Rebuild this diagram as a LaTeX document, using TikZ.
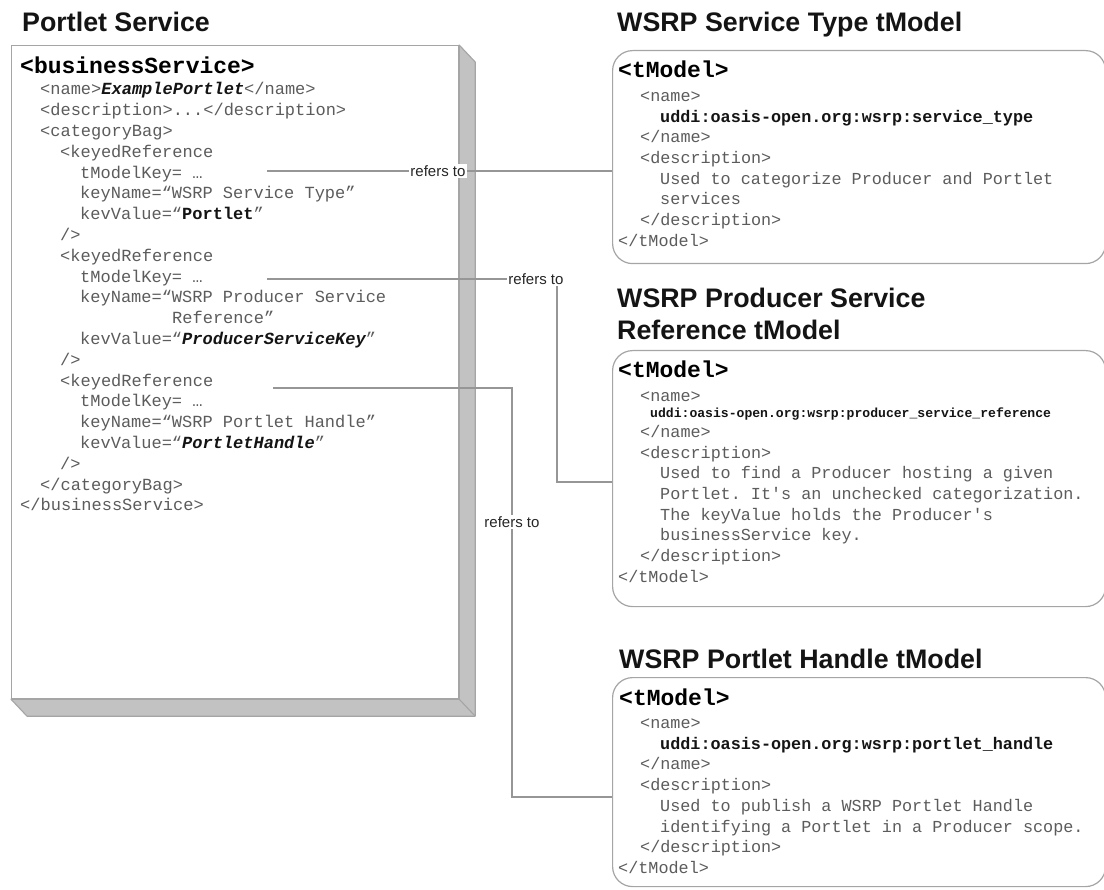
\documentclass[tikz,border=0pt]{standalone}
\usepackage{fontspec}
\setmainfont{Liberation Sans}
\setmonofont{Liberation Mono}
\definecolor{codegray}{RGB}{92,92,92}
\definecolor{linegray}{RGB}{150,150,150}
\definecolor{boxgray}{RGB}{165,165,165}
\definecolor{shadowgray}{RGB}{194,194,194}
\definecolor{darktext}{RGB}{20,20,20}
\newcommand\bk[1]{{\color{darktext}\bfseries #1}}
\newcommand\bki[1]{{\color{darktext}\bfseries\itshape #1}}
\begin{document}
\begin{tikzpicture}[x=1pt,y=-1pt,
  title/.style={anchor=base west, inner sep=0, font=\fontsize{26.8}{30}\selectfont\bfseries, text=darktext},
  code/.style={anchor=base west, inner sep=0, font=\ttfamily\fontsize{17}{20}\selectfont, text=codegray},
  rcode/.style={anchor=base west, inner sep=0, font=\ttfamily\fontsize{16.8}{20}\selectfont, text=codegray},
  rbold/.style={rcode, font=\ttfamily\bfseries\fontsize{16.8}{20}\selectfont, text=darktext},
  rsmall/.style={rcode, font=\ttfamily\bfseries\fontsize{13.1}{15}\selectfont, text=darktext},
  tag/.style={anchor=base west, inner sep=0, font=\ttfamily\bfseries\fontsize{23}{26}\selectfont, text=black},
  conn/.style={draw=linegray, line width=1.1pt},
  reflabel/.style={fill=white, inner sep=1.5pt, font=\fontsize{15}{17}\selectfont, text=black!85},
  tbox/.style={draw=boxgray, line width=1.2pt, rounded corners=20pt, fill=white, inner sep=0, anchor=north west, minimum width=493pt}]
\useasboundingbox (0,0) rectangle (1104,890);

% ---------- Portlet Service box ----------
\node[title] (t0) at (22,32) {Portlet Service};
\node[draw=boxgray, line width=1.2pt, fill=white, inner sep=0, anchor=north west,
      minimum width=447pt, minimum height=653pt] (ps) at (11,45) {};
\filldraw[fill=shadowgray, draw=boxgray, line width=1.1pt, line join=round]
  (ps.north east) -- ([shift={(16,17)}]ps.north east)
  -- ([shift={(16,17)}]ps.south east) -- ([shift={(16,17)}]ps.south west)
  -- (ps.south west) -- (ps.south east) -- cycle;
\draw[draw=boxgray, line width=1.1pt] (ps.south east) -- ([shift={(16,17)}]ps.south east);

\node[tag] (bs) at (20,74) {<businessService>};
\node[code] (l0) at (40,95) {<name>\bki{ExamplePortlet}</name>};
\node[code] (l1) at (40,115.8) {<description>...</description>};
\node[code] (l2) at (40,136.6) {<categoryBag>};
\node[code] (l3) at (60,157.4) {<keyedReference};
\node[code] (l4) at (80,178.2) {tModelKey= …};
\node[code] (l5) at (80,199) {keyName=“WSRP Service Type”};
\node[code] (l6) at (80,219.8) {kevValue=“\bk{Portlet}”};
\node[code] (l7) at (60,240.6) {/>};
\node[code] (l8) at (60,261.4) {<keyedReference};
\node[code] (l9) at (80,282.2) {tModelKey= …};
\node[code] (l10) at (80,303) {keyName=“WSRP Producer Service};
\node[code] (l11) at (172,323.8) {Reference”};
\node[code] (l12) at (80,344.6) {kevValue=“\bki{ProducerServiceKey}”};
\node[code] (l13) at (60,365.4) {/>};
\node[code] (l14) at (60,386.2) {<keyedReference};
\node[code] (l15) at (80,407) {tModelKey= …};
\node[code] (l16) at (80,427.8) {keyName=“WSRP Portlet Handle”};
\node[code] (l17) at (80,448.6) {kevValue=“\bki{PortletHandle}”};
\node[code] (l18) at (60,469.4) {/>};
\node[code] (l19) at (40,490.2) {</categoryBag>};
\node[code] (l20) at (20,511) {</businessService>};

% ---------- WSRP Service Type tModel ----------
\node[title] (t1) at (617,32) {WSRP Service Type tModel};
\node[tbox, minimum height=213pt] (tm1) at (612,50) {};
\node[tag] (tg1) at (618,78) {<tModel>};
\node[rcode] (a0) at (640,101.5) {<name>};
\node[rbold] (a1) at (660,122.2) {uddi:oasis-open.org:wsrp:service\_type};
\node[rcode] (a2) at (640,142.9) {</name>};
\node[rcode] (a3) at (640,163.6) {<description>};
\node[rcode] (a4) at (660,184.3) {Used to categorize Producer and Portlet};
\node[rcode] (a5) at (660,205) {services};
\node[rcode] (a6) at (640,225.7) {</description>};
\node[rcode] (a7) at (618,246.4) {</tModel>};

% ---------- WSRP Producer Service Reference tModel ----------
\node[title] (t2a) at (617,308) {WSRP Producer Service};
\node[title] (t2b) at (617,340) {Reference tModel};
\node[tbox, minimum height=256pt] (tm2) at (612,350) {};
\node[tag] (tg2) at (618,378) {<tModel>};
\node[rcode] (b0) at (640,401.5) {<name>};
\node[rsmall] (b1) at (650,417.5) {uddi:oasis-open.org:wsrp:producer\_service\_reference};
\node[rcode] (b2) at (640,437.5) {</name>};
\node[rcode] (b3) at (640,458.2) {<description>};
\node[rcode] (b4) at (660,478.9) {Used to find a Producer hosting a given};
\node[rcode] (b5) at (660,499.6) {Portlet. It's an unchecked categorization.};
\node[rcode] (b6) at (660,520.3) {The keyValue holds the Producer's};
\node[rcode] (b7) at (660,541) {businessService key.};
\node[rcode] (b8) at (640,561.7) {</description>};
\node[rcode] (b9) at (618,582.4) {</tModel>};

% ---------- WSRP Portlet Handle tModel ----------
\node[title] (t3) at (619,668) {WSRP Portlet Handle tModel};
\node[tbox, minimum height=209pt] (tm3) at (612,677) {};
\node[tag] (tg3) at (619,705) {<tModel>};
\node[rcode] (c0) at (640,728.5) {<name>};
\node[rbold] (c1) at (660,749.2) {uddi:oasis-open.org:wsrp:portlet\_handle};
\node[rcode] (c2) at (640,769.9) {</name>};
\node[rcode] (c3) at (640,790.6) {<description>};
\node[rcode] (c4) at (660,811.3) {Used to publish a WSRP Portlet Handle};
\node[rcode] (c5) at (660,832) {identifying a Portlet in a Producer scope.};
\node[rcode] (c6) at (640,852.7) {</description>};
\node[rcode] (c7) at (618,873.4) {</tModel>};

% ---------- connectors ----------
\coordinate (r1) at (267,171);
\draw[conn] (r1) -- (r1 -| tm1.west);
\node[reflabel] (lab1) at (438,171) {refers to};

\coordinate (r2) at (267,279);
\coordinate (r2k) at (557,279);
\coordinate (r2b) at (557,482);
\draw[conn] (r2) -- (r2k) -- (r2b) -- (r2b -| tm2.west);
\node[reflabel] (lab2) at (536,279) {refers to};

\coordinate (r3) at (273,388);
\coordinate (r3k) at (512,388);
\coordinate (r3b) at (512,797);
\draw[conn] (r3) -- (r3k) -- (r3b) -- (r3b -| tm3.west);
\node[reflabel] (lab3) at (512,522) {refers to};
\end{tikzpicture}
\end{document}
